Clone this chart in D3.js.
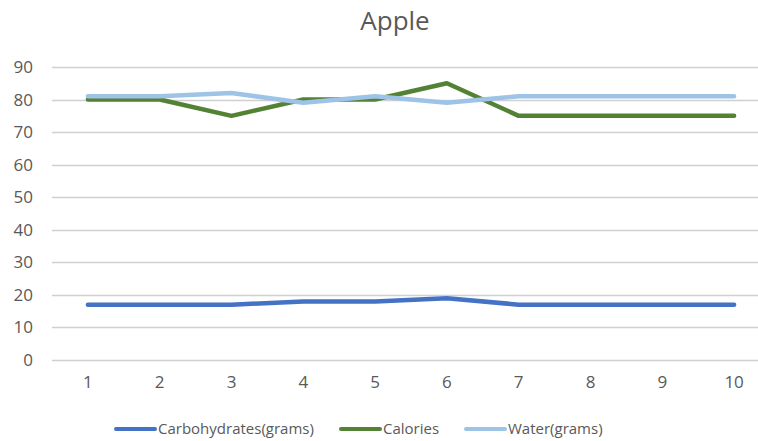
<!DOCTYPE html>
<html>
<head>
<meta charset="utf-8">
<script src="https://cdn.jsdelivr.net/npm/d3@7"></script>
<style>
  html, body { margin: 0; padding: 0; background: #fff; }
  svg { display: block; }
  text { font-family: "Open Sans", "Noto Sans", sans-serif; fill: #595959; }
</style>
</head>
<body>
<svg id="chart" width="758" height="441"></svg>
<script>
// Nutrition values per sample
const categories = ["1", "2", "3", "4", "5", "6", "7", "8", "9", "10"];
const carbohydrates = [17, 17, 17, 18, 18, 19, 17, 17, 17, 17];
const calories = [80, 80, 75, 80, 80, 85, 75, 75, 75, 75];
const water = [81, 81, 82, 79, 81, 79, 81, 81, 81, 81];
const yTicks = [0, 10, 20, 30, 40, 50, 60, 70, 80, 90];

const seriesNames = ["Carbohydrates(grams)", "Calories", "Water(grams)"];
const seriesColors = ["#4472C4", "#548235", "#9DC3E6"];
const seriesValues = [carbohydrates, calories, water];

const svg = d3.select("#chart");
const plot = { left: 52, right: 770, top: 67, bottom: 360 };

const x = d3.scaleBand().domain(categories).range([plot.left, plot.right]);
const y = d3.scaleLinear().domain([0, 90]).range([plot.bottom, plot.top]);

// Title
svg.append("text")
  .attr("x", 395).attr("y", 30)
  .attr("text-anchor", "middle")
  .style("font-size", "26px")
  .text("Apple");

// Horizontal gridlines
svg.append("g").selectAll("line").data(yTicks).join("line")
  .attr("x1", plot.left).attr("x2", plot.right)
  .attr("y1", d => Math.round(y(d)) + 0.5).attr("y2", d => Math.round(y(d)) + 0.5)
  .attr("stroke", "#d0d0d0").attr("stroke-width", 1.5);

// Y axis labels
const yAxis = svg.append("g")
  .attr("transform", `translate(${plot.left},0)`)
  .call(d3.axisLeft(y).tickValues(yTicks).tickSize(0).tickPadding(19));
yAxis.select(".domain").remove();
yAxis.selectAll("text")
  .style("font-size", "17px")
  .style("font-family", "'Open Sans', 'Noto Sans', sans-serif")
  .attr("fill", "#595959");

// X axis labels
const xAxis = svg.append("g")
  .attr("transform", `translate(0,${plot.bottom})`)
  .call(d3.axisBottom(x).tickSize(0).tickPadding(16));
xAxis.select(".domain").remove();
xAxis.selectAll("text")
  .style("font-size", "17px")
  .style("font-family", "'Open Sans', 'Noto Sans', sans-serif")
  .attr("fill", "#595959");

// Series lines
const line = d3.line()
  .x((d, i) => x(categories[i]) + x.bandwidth() / 2)
  .y(d => y(d));

seriesValues.forEach((vals, k) => {
  svg.append("path")
    .datum(vals)
    .attr("d", line)
    .attr("fill", "none")
    .attr("stroke", seriesColors[k])
    .attr("stroke-width", 4.5)
    .attr("stroke-linecap", "round")
    .attr("stroke-linejoin", "round");
});

// Legend
const legendItems = [
  { x: 116 }, { x: 341 }, { x: 466 }
];
const legend = svg.append("g");
seriesNames.forEach((name, k) => {
  const g = legend.append("g").attr("transform", `translate(${legendItems[k].x},429)`);
  g.append("line")
    .attr("x1", 0).attr("x2", 39).attr("y1", 0).attr("y2", 0)
    .attr("stroke", seriesColors[k]).attr("stroke-width", 4)
    .attr("stroke-linecap", "round");
  g.append("text")
    .attr("x", 42).attr("y", 0).attr("dy", "0.35em")
    .style("font-size", "15px")
    .text(name);
});
</script>
</body>
</html>
